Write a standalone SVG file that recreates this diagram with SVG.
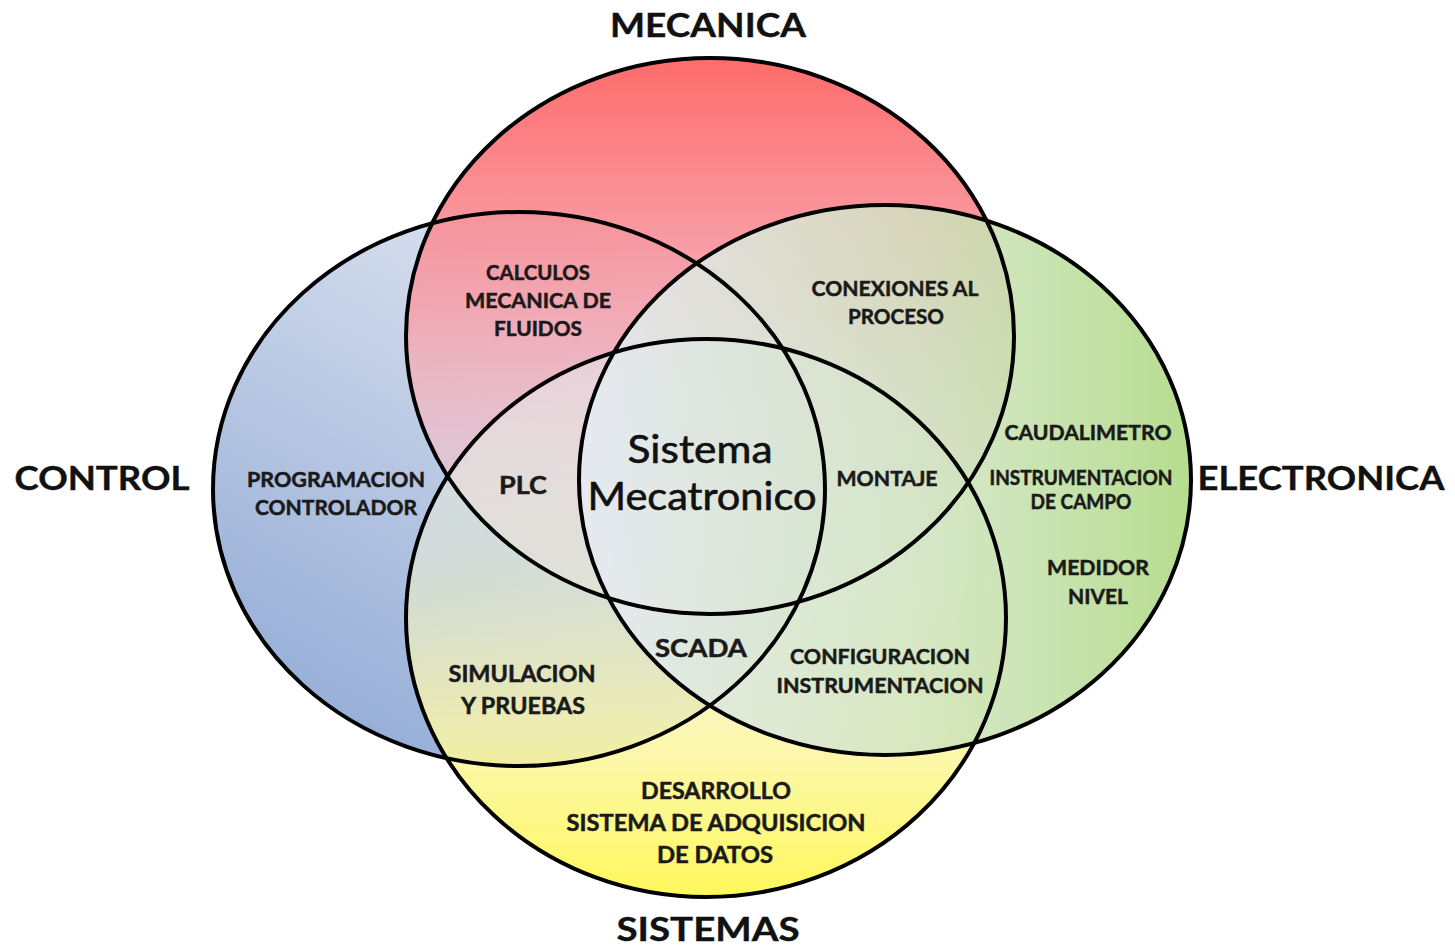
<svg xmlns="http://www.w3.org/2000/svg" width="1455" height="948" viewBox="0 0 1455 948">
  <defs>
    <linearGradient id="gControl" x1="0.75" y1="0.05" x2="0.2" y2="0.95">
      <stop offset="0" stop-color="#e2e7f1"/>
      <stop offset="1" stop-color="#95add7"/>
    </linearGradient>
    <linearGradient id="gMecanica" x1="0" y1="0" x2="0" y2="1">
      <stop offset="0" stop-color="#ff6b6b" stop-opacity="1"/>
      <stop offset="0.45" stop-color="#f5a2ad" stop-opacity="0.9"/>
      <stop offset="1" stop-color="#efe2ec" stop-opacity="0.4"/>
    </linearGradient>
    <linearGradient id="gSistemas" x1="0" y1="1" x2="0" y2="0">
      <stop offset="0" stop-color="#fff85a" stop-opacity="1"/>
      <stop offset="0.3" stop-color="#fbf6a8" stop-opacity="0.85"/>
      <stop offset="0.6" stop-color="#e8ecd2" stop-opacity="0.6"/>
      <stop offset="1" stop-color="#e6eaf2" stop-opacity="0.5"/>
    </linearGradient>
    <linearGradient id="gElectronica" x1="1" y1="0" x2="0" y2="0">
      <stop offset="0" stop-color="#b2db88" stop-opacity="0.95"/>
      <stop offset="0.45" stop-color="#d0e4c2" stop-opacity="0.82"/>
      <stop offset="1" stop-color="#e6ebf3" stop-opacity="0.9"/>
    </linearGradient>
  </defs>
  <style>
    .ring { fill: none; stroke: #000; stroke-width: 4; }
    .head { font-family: Lato, "Open Sans", sans-serif; font-weight: bold; font-size: 33px; fill: #111; stroke: #111; stroke-width: 0.4; text-anchor: middle; }
    .lbl { font-family: Lato, "Open Sans", sans-serif; font-weight: bold; font-size: 20px; fill: #1a1a1a; stroke: #1a1a1a; stroke-width: 0.5; text-anchor: middle; }
    .lg { font-size: 22px; }
    .big { font-family: Lato, "Open Sans", sans-serif; font-weight: bold; font-size: 25px; fill: #1a1a1a; stroke: #1a1a1a; stroke-width: 0.5; text-anchor: middle; }
    .core { font-family: Lato, "Open Sans", sans-serif; font-weight: normal; font-size: 38px; fill: #111; stroke: #111; stroke-width: 0.6; text-anchor: middle; }
  </style>

  <rect width="1455" height="948" fill="#fff"/>

  <!-- filled areas, stacked so the gradients blend in the overlaps -->
  <g id="fills">
    <ellipse cx="519" cy="489" rx="306" ry="277" fill="url(#gControl)"/>
    <ellipse cx="710" cy="336" rx="304" ry="278" fill="url(#gMecanica)"/>
    <ellipse cx="706" cy="618" rx="300" ry="279" fill="url(#gSistemas)"/>
    <ellipse cx="885" cy="480" rx="306" ry="275" fill="url(#gElectronica)"/>
  </g>

  <!-- outlines -->
  <g id="node-control"><ellipse class="ring" cx="519" cy="489" rx="306" ry="277"/></g>
  <g id="node-mecanica"><ellipse class="ring" cx="710" cy="336" rx="304" ry="278"/></g>
  <g id="node-electronica"><ellipse class="ring" cx="885" cy="480" rx="306" ry="275"/></g>
  <g id="node-sistemas"><ellipse class="ring" cx="706" cy="618" rx="300" ry="279"/></g>
  <g id="connectors"></g>

  <!-- area titles -->
  <g id="titles">
    <text class="head" x="708" y="37" textLength="196" lengthAdjust="spacingAndGlyphs">MECANICA</text>
    <text class="head" x="102" y="490" textLength="175" lengthAdjust="spacingAndGlyphs">CONTROL</text>
    <text class="head" x="1321" y="490" textLength="247" lengthAdjust="spacingAndGlyphs">ELECTRONICA</text>
    <text class="head" x="708" y="941" textLength="183" lengthAdjust="spacingAndGlyphs">SISTEMAS</text>
  </g>

  <!-- region labels -->
  <g id="labels">
    <text class="core" x="700" y="463" textLength="145" lengthAdjust="spacingAndGlyphs">Sistema</text>
    <text class="core" x="702" y="510" textLength="229" lengthAdjust="spacingAndGlyphs">Mecatronico</text>

    <text class="big" x="523" y="494" textLength="48" lengthAdjust="spacingAndGlyphs">PLC</text>
    <text class="big" x="701" y="657" textLength="92" lengthAdjust="spacingAndGlyphs">SCADA</text>
    <text class="lbl" x="887" y="486" textLength="101" lengthAdjust="spacingAndGlyphs">MONTAJE</text>

    <text class="lbl" x="538" y="280" textLength="104" lengthAdjust="spacingAndGlyphs">CALCULOS</text>
    <text class="lbl" x="538" y="308" textLength="146" lengthAdjust="spacingAndGlyphs">MECANICA DE</text>
    <text class="lbl" x="538" y="336" textLength="88" lengthAdjust="spacingAndGlyphs">FLUIDOS</text>

    <text class="lbl" x="895" y="296" textLength="167" lengthAdjust="spacingAndGlyphs">CONEXIONES AL</text>
    <text class="lbl" x="896" y="324" textLength="96" lengthAdjust="spacingAndGlyphs">PROCESO</text>

    <text class="lbl" x="336" y="487" textLength="178" lengthAdjust="spacingAndGlyphs">PROGRAMACION</text>
    <text class="lbl" x="336" y="515" textLength="162" lengthAdjust="spacingAndGlyphs">CONTROLADOR</text>

    <text class="lbl" x="1088" y="440" textLength="167" lengthAdjust="spacingAndGlyphs">CAUDALIMETRO</text>
    <text class="lbl" x="1081" y="485" font-size="18" textLength="183" lengthAdjust="spacingAndGlyphs">INSTRUMENTACION</text>
    <text class="lbl" x="1081" y="509" font-size="18" textLength="101" lengthAdjust="spacingAndGlyphs">DE CAMPO</text>
    <text class="lbl" x="1098" y="575" textLength="102" lengthAdjust="spacingAndGlyphs">MEDIDOR</text>
    <text class="lbl" x="1098" y="604" textLength="60" lengthAdjust="spacingAndGlyphs">NIVEL</text>

    <text class="lbl lg" x="522" y="682" textLength="147" lengthAdjust="spacingAndGlyphs">SIMULACION</text>
    <text class="lbl lg" x="523" y="714" textLength="124" lengthAdjust="spacingAndGlyphs">Y PRUEBAS</text>

    <text class="lbl" x="880" y="664" textLength="180" lengthAdjust="spacingAndGlyphs">CONFIGURACION</text>
    <text class="lbl" x="880" y="693" textLength="207" lengthAdjust="spacingAndGlyphs">INSTRUMENTACION</text>

    <text class="lbl lg" x="716" y="799" textLength="150" lengthAdjust="spacingAndGlyphs">DESARROLLO</text>
    <text class="lbl lg" x="716" y="831" textLength="299" lengthAdjust="spacingAndGlyphs">SISTEMA DE ADQUISICION</text>
    <text class="lbl lg" x="715" y="863" textLength="116" lengthAdjust="spacingAndGlyphs">DE DATOS</text>
  </g>
</svg>
